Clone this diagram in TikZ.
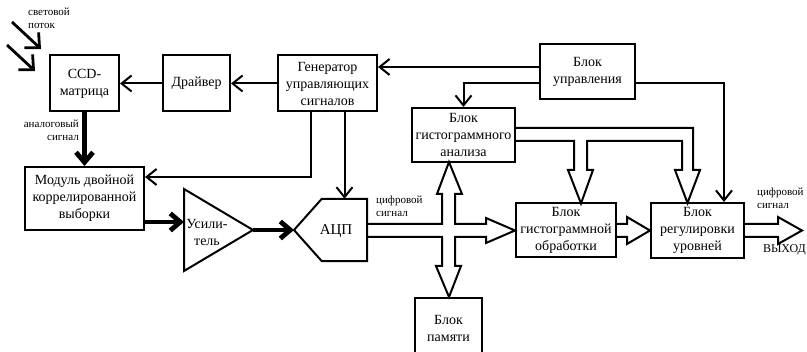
\documentclass[tikz,border=0pt]{standalone}
\usepackage{fontspec}
\setmainfont{Liberation Serif}
\usetikzlibrary{arrows.meta,calc}
\begin{document}
\begin{tikzpicture}[x=1pt,y=-1pt,
  box/.style={draw, line width=2pt, align=center, inner sep=0pt, font=\fontsize{14}{17}\selectfont},
  sig/.style={line width=2pt, -{Straight Barb[length=10pt,width=16pt]}},
  heavy/.style={line width=4.8pt, -{Straight Barb[length=10pt,width=17pt]}},
  beam/.style={line width=2.8pt, -{Straight Barb[length=11pt,width=21pt]}},
  hollow/.style={line width=2pt, line join=miter},
  note/.style={font=\fontsize{11}{13}\selectfont, inner sep=0pt}
]
\useasboundingbox (0,0) rectangle (807,352);

% blocks
\node[box, minimum width=69pt, minimum height=56pt] (ccd) at (84.5,83.5) {CCD-\\матрица};
\node[box, minimum width=67pt, minimum height=56pt] (drv) at (196.5,83.5) {Драйвер};
\node[box, minimum width=99pt, minimum height=56pt] (gen) at (327.5,83.5) {Генератор\\управляющих\\сигналов};
\node[box, minimum width=95pt, minimum height=55pt] (ctl) at (587.5,71.5) {Блок\\управления};
\node[box, minimum width=103pt, minimum height=54pt] (ana) at (463.5,135) {Блок\\гистограммного\\анализа};
\node[box, minimum width=119pt, minimum height=63pt] (cds) at (84.5,198.5) {Модуль двойной\\коррелированной\\выборки};
\node[box, minimum width=100pt, minimum height=54pt] (proc) at (566,230.5) {Блок\\гистограммной\\обработки};
\node[box, minimum width=93pt, minimum height=55pt] (lvl) at (697.5,230.5) {Блок\\регулировки\\уровней};
\node[box, minimum width=67pt, minimum height=60pt, anchor=north] (mem) at (448.5,297) {Блок\\памяти};

% amplifier
\coordinate (ampin) at (184,230);
\coordinate (ampout) at (253,230);
\draw[line width=2pt, line join=miter] (184,189) -- (ampout) -- (184,271) -- cycle;
\node[font=\fontsize{14}{17}\selectfont, align=center, inner sep=0pt] (amp) at (207,232) {Усили-\\тель};

% analog-to-digital converter
\node[minimum width=45pt, minimum height=62pt, inner sep=0pt] (adc) at (344.5,230) {};
\coordinate (adcin) at (294,230);
\draw[line width=2pt, line join=miter] (adcin) -- (adc.north west) -- (adc.north east) -- (adc.south east) -- (adc.south west) -- cycle;
\node[font=\fontsize{15}{17}\selectfont, inner sep=0pt] (adctext) at (336,231) {АЦП};

% control connections
\coordinate (ctlA) at ($(ctl.west)+(0,-4.5)$);
\coordinate (ctlB) at ($(ctl.west)+(0,11.5)$);
\coordinate (ctlC) at ($(ctl.east)+(0,11.5)$);
\draw[sig] (ctlA) -- (ctlA -| gen.east);
\draw[sig] (ctlB) -| (ana.north);
\draw[sig] (ctlC) -| ($(lvl.north)+(26.5,0)$);
\draw[sig] (gen.west) -- (drv.east);
\draw[sig] (drv.west) -- (ccd.east);
\draw[sig] ($(gen.south)+(-16.5,0)$) |- ($(cds.east)+(0,-21.5)$);
\draw[sig] ($(gen.south)+(17,0)$) -- (adc.north);

% analog signal path
\draw[heavy] (ccd.south) -- (cds.north);
\draw[heavy] ($(cds.east)+(0,23.5)$) -- ($(ampin)+(0,-8)$);
\draw[heavy] (ampout) -- (adcin);

% incoming light
\coordinate (ray1s) at (12,22);
\coordinate (ray1e) at (41,49);
\coordinate (ray2s) at (7,45);
\coordinate (ray2e) at (35,71);
\draw[beam] (ray1s) -- (ray1e);
\draw[beam] (ray2s) -- (ray2e);

% digital buses
\draw[hollow] (adc.east |- 0,224) -- (442,224) -- (442,194) -- (437,194) -- (449,162)
  -- (462,194) -- (455,194) -- (455,224) -- (486,224) -- (486,218) -- (proc.west)
  -- (486,243) -- (486,237) -- (455,237) -- (455,266) -- (461,266) -- (449,297)
  -- (436,266) -- (442,266) -- (442,237) -- (adc.east |- 0,237);
\draw[hollow] (ana.east |- 0,128) -- (693,128) -- (693,170) -- (700,170) -- (687.5,203)
  -- (675,170) -- (682,170) -- (682,141) -- (587,141) -- (587,170) -- (593,170)
  -- (581,203.5) -- (568,170) -- (574,170) -- (574,141) -- (ana.east |- 0,141);
\draw[hollow] (proc.east |- 0,224) -- (627,224) -- (627,217) -- (lvl.west) -- (627,244)
  -- (627,237) -- (proc.east |- 0,237);
\draw[hollow] (lvl.east |- 0,224) -- (778,224) -- (778,217) -- (802,230.5) -- (778,244)
  -- (778,237) -- (lvl.east |- 0,237);

% labels
\node[note, align=left, anchor=north west] (lightlbl) at (28,8) {световой\\поток};
\node[note, align=right, anchor=north east] (analbl) at (79,120) {аналоговый\\сигнал};
\node[note, align=left, anchor=north west] (diglbl) at (376,196) {цифровой\\сигнал};
\node[note, align=left, anchor=north west] (outlbl) at (757,188) {цифровой\\сигнал};
\node[note, anchor=east, font=\fontsize{12}{14}\selectfont] (outname) at (806,250) {ВЫХОД};
\end{tikzpicture}
\end{document}
